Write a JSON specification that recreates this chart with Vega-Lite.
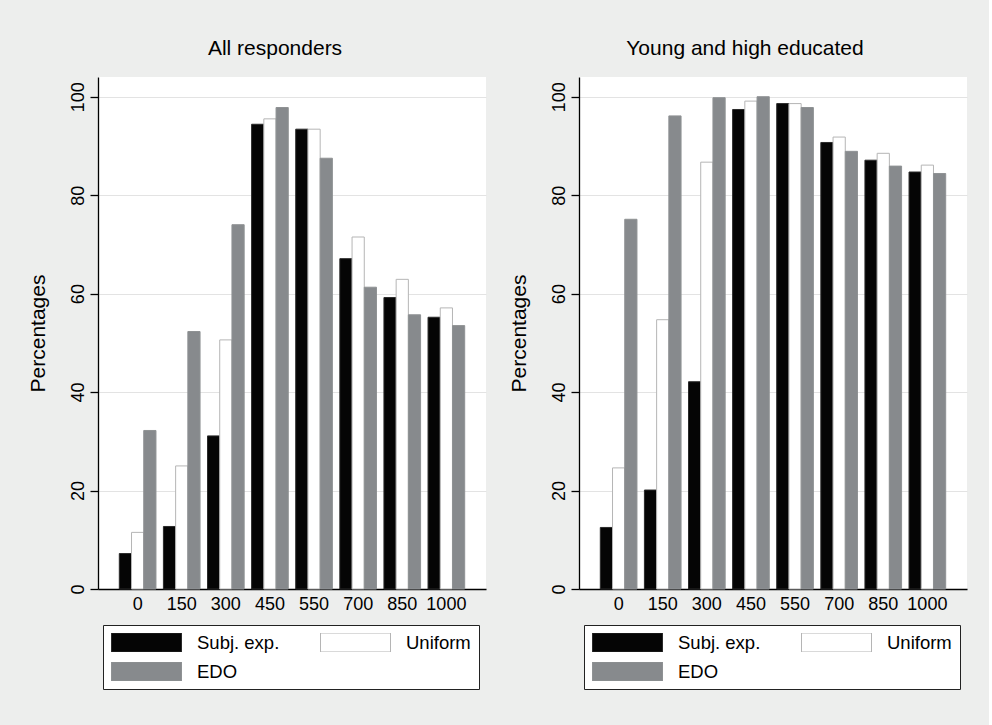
{
  "$schema": "https://vega.github.io/schema/vega-lite/v6.json",
  "background": "#edeeed",
  "padding": {"left": 27, "top": 38, "right": 22, "bottom": 35},
  "config": {
    "font": "Liberation Sans",
    "view": {"fill": "white", "stroke": null},
    "axisY": {"domainColor": "black", "domainWidth": 1.3, "tickColor": "black", "tickSize": 8, "tickWidth": 1.3, "labelAngle": -90, "labelAlign": "center", "labelBaseline": "alphabetic", "labelPadding": 7, "labelFontSize": 18, "labelColor": "black", "titleFontSize": 21, "titleFontWeight": "normal", "titleColor": "black", "titlePadding": 21, "gridColor": "#e3e3e3", "gridWidth": 1.2},
    "axisX": {"domainColor": "black", "domainWidth": 1.3, "ticks": false, "labelAngle": 0, "labelFontSize": 18, "labelColor": "black", "labelPadding": 6, "grid": false},
    "title": {"fontSize": 21, "fontWeight": "normal", "color": "black", "offset": 18}
  },
  "datasets": {
    "bars": [
      {"panel": "all", "amount": "0", "series": "Subj. exp.", "pct": 7.2},
      {"panel": "all", "amount": "0", "series": "Uniform", "pct": 11.5},
      {"panel": "all", "amount": "0", "series": "EDO", "pct": 32.2},
      {"panel": "all", "amount": "150", "series": "Subj. exp.", "pct": 12.7},
      {"panel": "all", "amount": "150", "series": "Uniform", "pct": 25.0},
      {"panel": "all", "amount": "150", "series": "EDO", "pct": 52.3},
      {"panel": "all", "amount": "300", "series": "Subj. exp.", "pct": 31.1},
      {"panel": "all", "amount": "300", "series": "Uniform", "pct": 50.6},
      {"panel": "all", "amount": "300", "series": "EDO", "pct": 74.0},
      {"panel": "all", "amount": "450", "series": "Subj. exp.", "pct": 94.4},
      {"panel": "all", "amount": "450", "series": "Uniform", "pct": 95.5},
      {"panel": "all", "amount": "450", "series": "EDO", "pct": 97.8},
      {"panel": "all", "amount": "550", "series": "Subj. exp.", "pct": 93.4},
      {"panel": "all", "amount": "550", "series": "Uniform", "pct": 93.4},
      {"panel": "all", "amount": "550", "series": "EDO", "pct": 87.5},
      {"panel": "all", "amount": "700", "series": "Subj. exp.", "pct": 67.1},
      {"panel": "all", "amount": "700", "series": "Uniform", "pct": 71.5},
      {"panel": "all", "amount": "700", "series": "EDO", "pct": 61.3},
      {"panel": "all", "amount": "850", "series": "Subj. exp.", "pct": 59.2},
      {"panel": "all", "amount": "850", "series": "Uniform", "pct": 62.9},
      {"panel": "all", "amount": "850", "series": "EDO", "pct": 55.7},
      {"panel": "all", "amount": "1000", "series": "Subj. exp.", "pct": 55.2},
      {"panel": "all", "amount": "1000", "series": "Uniform", "pct": 57.1},
      {"panel": "all", "amount": "1000", "series": "EDO", "pct": 53.5},
      {"panel": "young", "amount": "0", "series": "Subj. exp.", "pct": 12.5},
      {"panel": "young", "amount": "0", "series": "Uniform", "pct": 24.6},
      {"panel": "young", "amount": "0", "series": "EDO", "pct": 75.1},
      {"panel": "young", "amount": "150", "series": "Subj. exp.", "pct": 20.1},
      {"panel": "young", "amount": "150", "series": "Uniform", "pct": 54.7},
      {"panel": "young", "amount": "150", "series": "EDO", "pct": 96.1},
      {"panel": "young", "amount": "300", "series": "Subj. exp.", "pct": 42.1},
      {"panel": "young", "amount": "300", "series": "Uniform", "pct": 86.7},
      {"panel": "young", "amount": "300", "series": "EDO", "pct": 99.8},
      {"panel": "young", "amount": "450", "series": "Subj. exp.", "pct": 97.4},
      {"panel": "young", "amount": "450", "series": "Uniform", "pct": 99.1},
      {"panel": "young", "amount": "450", "series": "EDO", "pct": 100.0},
      {"panel": "young", "amount": "550", "series": "Subj. exp.", "pct": 98.6},
      {"panel": "young", "amount": "550", "series": "Uniform", "pct": 98.6},
      {"panel": "young", "amount": "550", "series": "EDO", "pct": 97.8},
      {"panel": "young", "amount": "700", "series": "Subj. exp.", "pct": 90.7},
      {"panel": "young", "amount": "700", "series": "Uniform", "pct": 91.8},
      {"panel": "young", "amount": "700", "series": "EDO", "pct": 88.9},
      {"panel": "young", "amount": "850", "series": "Subj. exp.", "pct": 87.1},
      {"panel": "young", "amount": "850", "series": "Uniform", "pct": 88.5},
      {"panel": "young", "amount": "850", "series": "EDO", "pct": 85.9},
      {"panel": "young", "amount": "1000", "series": "Subj. exp.", "pct": 84.7},
      {"panel": "young", "amount": "1000", "series": "Uniform", "pct": 86.1},
      {"panel": "young", "amount": "1000", "series": "EDO", "pct": 84.4}
    ]
  },
  "spacing": 22,
  "resolve": {"legend": {"fill": "independent", "stroke": "independent"}},
  "hconcat": [
    {
      "title": {"text": "All responders", "dx": -17},
      "width": 388,
      "height": 512,
      "data": {"name": "bars"},
      "transform": [{"filter": "datum.panel === 'all'"}],
      "mark": {"type": "bar", "strokeWidth": 1},
      "encoding": {
        "x": {"field": "amount", "type": "ordinal", "sort": ["0", "150", "300", "450", "550", "700", "850", "1000"], "scale": {"paddingInner": 0.169, "paddingOuter": 0.483}, "axis": {"title": null}},
        "xOffset": {"field": "series", "type": "nominal", "sort": ["Subj. exp.", "Uniform", "EDO"], "scale": {"paddingInner": 0, "paddingOuter": 0}},
        "y": {"field": "pct", "type": "quantitative", "scale": {"domain": [0, 104], "nice": false}, "axis": {"title": "Percentages", "values": [0, 20, 40, 60, 80, 100]}},
        "fill": {"field": "series", "type": "nominal", "scale": {"domain": ["Subj. exp.", "Uniform", "EDO"], "range": ["#050505", "#ffffff", "#878a8d"]},
          "legend": {"title": null, "orient": "none", "legendX": 5, "legendY": 548, "columns": 2, "direction": "horizontal", "symbolType": "M-1,-0.2714L1,-0.2714L1,0.2714L-1,0.2714Z", "symbolSize": 4900, "clipHeight": 19, "labelOffset": 15, "columnPadding": 40, "rowPadding": 10, "padding": 8, "strokeColor": "#222222", "fillColor": "white", "labelFontSize": 18.5, "labelColor": "black", "symbolStrokeWidth": 1, "symbolOpacity": 1, "labelLimit": 200}},
        "stroke": {"field": "series", "type": "nominal", "scale": {"domain": ["Subj. exp.", "Uniform", "EDO"], "range": ["#2a2a2a", "#b5b5b5", "#8f9294"]},
          "legend": {"title": null, "orient": "none", "legendX": 5, "legendY": 548, "columns": 2, "direction": "horizontal", "symbolType": "M-1,-0.2714L1,-0.2714L1,0.2714L-1,0.2714Z", "symbolSize": 4900, "clipHeight": 19, "labelOffset": 15, "columnPadding": 40, "rowPadding": 10, "padding": 8, "strokeColor": "#222222", "fillColor": "white", "labelFontSize": 18.5, "labelColor": "black", "symbolStrokeWidth": 1, "symbolOpacity": 1, "labelLimit": 200}}
      }
    },
    {
      "title": {"text": "Young and high educated", "dx": -28},
      "width": 388,
      "height": 512,
      "data": {"name": "bars"},
      "transform": [{"filter": "datum.panel === 'young'"}],
      "mark": {"type": "bar", "strokeWidth": 1},
      "encoding": {
        "x": {"field": "amount", "type": "ordinal", "sort": ["0", "150", "300", "450", "550", "700", "850", "1000"], "scale": {"paddingInner": 0.169, "paddingOuter": 0.483}, "axis": {"title": null}},
        "xOffset": {"field": "series", "type": "nominal", "sort": ["Subj. exp.", "Uniform", "EDO"], "scale": {"paddingInner": 0, "paddingOuter": 0}},
        "y": {"field": "pct", "type": "quantitative", "scale": {"domain": [0, 104], "nice": false}, "axis": {"title": "Percentages", "values": [0, 20, 40, 60, 80, 100]}},
        "fill": {"field": "series", "type": "nominal", "scale": {"domain": ["Subj. exp.", "Uniform", "EDO"], "range": ["#050505", "#ffffff", "#878a8d"]},
          "legend": {"title": null, "orient": "none", "legendX": 5, "legendY": 548, "columns": 2, "direction": "horizontal", "symbolType": "M-1,-0.2714L1,-0.2714L1,0.2714L-1,0.2714Z", "symbolSize": 4900, "clipHeight": 19, "labelOffset": 15, "columnPadding": 40, "rowPadding": 10, "padding": 8, "strokeColor": "#222222", "fillColor": "white", "labelFontSize": 18.5, "labelColor": "black", "symbolStrokeWidth": 1, "symbolOpacity": 1, "labelLimit": 200}},
        "stroke": {"field": "series", "type": "nominal", "scale": {"domain": ["Subj. exp.", "Uniform", "EDO"], "range": ["#2a2a2a", "#b5b5b5", "#8f9294"]},
          "legend": {"title": null, "orient": "none", "legendX": 5, "legendY": 548, "columns": 2, "direction": "horizontal", "symbolType": "M-1,-0.2714L1,-0.2714L1,0.2714L-1,0.2714Z", "symbolSize": 4900, "clipHeight": 19, "labelOffset": 15, "columnPadding": 40, "rowPadding": 10, "padding": 8, "strokeColor": "#222222", "fillColor": "white", "labelFontSize": 18.5, "labelColor": "black", "symbolStrokeWidth": 1, "symbolOpacity": 1, "labelLimit": 200}}
      }
    }
  ]
}
